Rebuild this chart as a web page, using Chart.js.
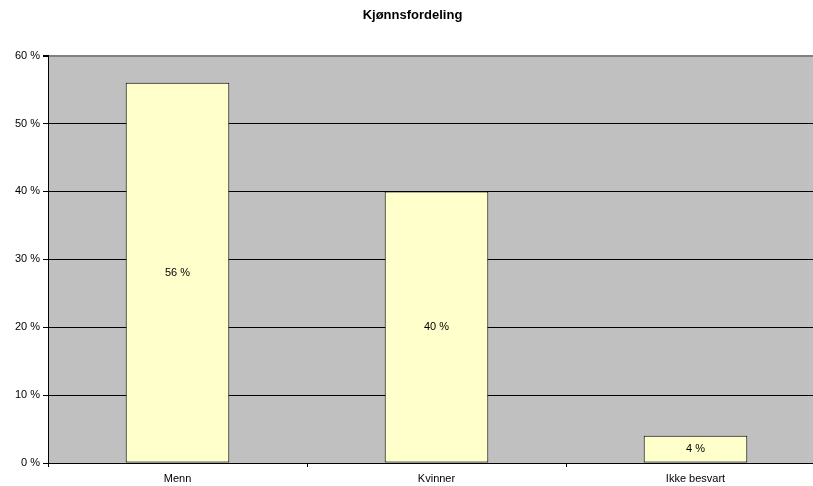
<!DOCTYPE html>
<html>
<head>
<meta charset="utf-8">
<script src="https://cdn.jsdelivr.net/npm/chart.js@4"></script>
<style>
  html, body { margin: 0; padding: 0; background: #fff; overflow: hidden; }
  #wrap { width: 813px; height: 486px; overflow: hidden; }
</style>
</head>
<body>
<div id="wrap"><canvas id="kjonn" width="835" height="486"></canvas></div>
<script>
const categories = ['Menn', 'Kvinner', 'Ikke besvart'];
const shares = [56, 40, 4];
const yTicks = [0, 10, 20, 30, 40, 50, 60];

const FONT = '"Liberation Sans", Arial, sans-serif';

// grey plot background
const plotBg = {
    id: 'plotBg',
    beforeDraw(chart) {
        const a = chart.chartArea;
        const ctx = chart.ctx;
        ctx.save();
        ctx.fillStyle = '#c0c0c0';
        ctx.fillRect(a.left, a.top, a.right - a.left, a.bottom - a.top);
        ctx.restore();
    }
};

// value written in the middle of each bar
const barLabels = {
    id: 'barLabels',
    afterDatasetsDraw(chart) {
        const ctx = chart.ctx;
        const meta = chart.getDatasetMeta(0);
        ctx.save();
        ctx.font = '11px ' + FONT;
        ctx.fillStyle = '#000';
        ctx.textAlign = 'center';
        ctx.textBaseline = 'middle';
        meta.data.forEach((bar, i) => {
            ctx.fillText(shares[i] + ' %', bar.x, (bar.y + bar.base) / 2);
        });
        ctx.restore();
    }
};

new Chart(document.getElementById('kjonn').getContext('2d'), {
    type: 'bar',
    data: {
        labels: categories,
        datasets: [{
            data: shares,
            backgroundColor: '#ffffcc',
            borderColor: '#000',
            borderWidth: 1,
            borderSkipped: false,
            categoryPercentage: 1,
            barPercentage: 0.4
        }]
    },
    options: {
        responsive: false,
        animation: false,
        layout: { padding: { left: 0, right: 10, top: 0, bottom: 0 } },
        plugins: {
            legend: { display: false },
            tooltip: { enabled: false },
            title: {
                display: true,
                text: 'Kjønnsfordeling',
                color: '#000',
                font: { family: FONT, size: 13, weight: 'bold', lineHeight: 1.2 },
                padding: { top: 8, bottom: 32 }
            }
        },
        scales: {
            x: {
                offset: true,
                afterFit(scale) { scale.height = 23; },
                grid: {
                    offset: true,
                    drawOnChartArea: false,
                    drawTicks: true,
                    tickLength: 4,
                    color: '#000'
                },
                border: { display: true, color: '#000', width: 1 },
                ticks: {
                    color: '#000',
                    padding: 5,
                    font: { family: FONT, size: 11 }
                }
            },
            y: {
                min: 0,
                max: 60,
                afterFit(scale) { scale.width = 48; },
                afterBuildTicks(scale) { scale.ticks = yTicks.map(v => ({ value: v })); },
                grid: {
                    color: ctx => (ctx.tick && ctx.tick.value === 60 ? '#808080' : '#000'),
                    lineWidth: ctx => (ctx.tick && ctx.tick.value === 60 ? 2 : 1),
                    drawTicks: true,
                    tickLength: 5,
                    tickColor: '#000'
                },
                border: { display: true, color: '#000', width: 1 },
                ticks: {
                    color: '#000',
                    padding: 3,
                    font: { family: FONT, size: 11 },
                    callback: v => v + ' %'
                }
            }
        }
    },
    plugins: [plotBg, barLabels]
});
</script>
</body>
</html>
